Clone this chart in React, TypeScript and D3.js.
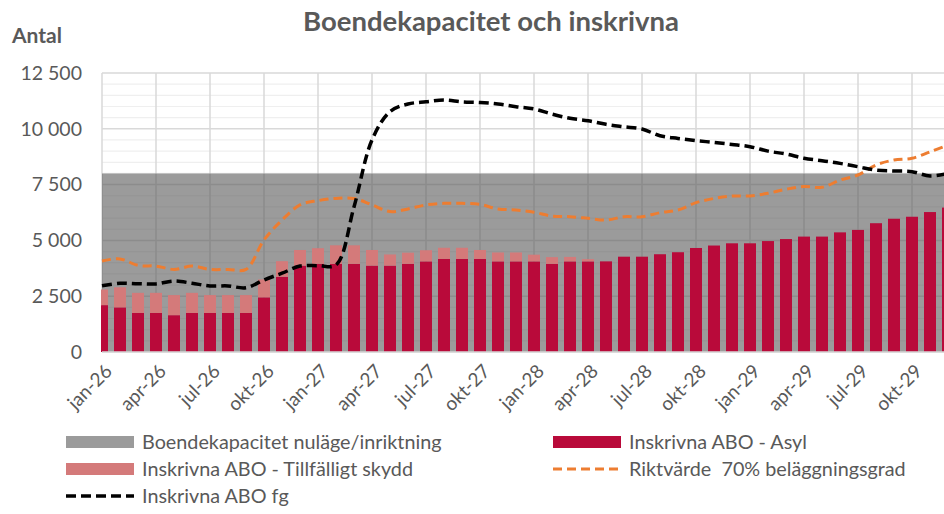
import React from 'react';
import * as d3 from 'd3';

// månader jan-26 .. dec-29
const months = [
  'jan-26', 'feb-26', 'mar-26', 'apr-26', 'maj-26', 'jun-26', 'jul-26', 'aug-26', 'sep-26', 'okt-26', 'nov-26', 'dec-26',
  'jan-27', 'feb-27', 'mar-27', 'apr-27', 'maj-27', 'jun-27', 'jul-27', 'aug-27', 'sep-27', 'okt-27', 'nov-27', 'dec-27',
  'jan-28', 'feb-28', 'mar-28', 'apr-28', 'maj-28', 'jun-28', 'jul-28', 'aug-28', 'sep-28', 'okt-28', 'nov-28', 'dec-28',
  'jan-29', 'feb-29', 'mar-29', 'apr-29', 'maj-29', 'jun-29', 'jul-29', 'aug-29', 'sep-29', 'okt-29', 'nov-29', 'dec-29',
];

const tickLabels = [
  'jan-26', 'apr-26', 'jul-26', 'okt-26', 'jan-27', 'apr-27', 'jul-27', 'okt-27',
  'jan-28', 'apr-28', 'jul-28', 'okt-28', 'jan-29', 'apr-29', 'jul-29', 'okt-29',
];

const yTicks = [0, 2500, 5000, 7500, 10000, 12500];

const kapacitet = [
  8000, 8000, 8000, 8000, 8000, 8000, 8000, 8000, 8000, 8000, 8000, 8000,
  8000, 8000, 8000, 8000, 8000, 8000, 8000, 8000, 8000, 8000, 8000, 8000,
  8000, 8000, 8000, 8000, 8000, 8000, 8000, 8000, 8000, 8000, 8000, 8000,
  8000, 8000, 8000, 8000, 8000, 8000, 8000, 8000, 8000, 8000, 8000, 8000,
];

const asyl = [
  2100, 2000, 1750, 1750, 1650, 1750, 1750, 1750, 1750, 2450, 3370, 3870,
  3950, 3950, 3950, 3870, 3870, 3950, 4060, 4170, 4170, 4170, 4060, 4060,
  4060, 3950, 4060, 4060, 4060, 4270, 4270, 4380, 4470, 4660, 4770, 4870,
  4870, 4970, 5060, 5170, 5170, 5360, 5470, 5770, 5970, 6060, 6270, 6470,
];

const tillfalligt = [
  700, 900, 900, 900, 900, 900, 800, 800, 800, 800, 700, 700,
  700, 830, 830, 700, 500, 500, 500, 500, 500, 400, 400, 400,
  300, 300, 200, 100, 0, 0, 0, 0, 0, 0, 0, 0,
  0, 0, 0, 0, 0, 0, 0, 0, 0, 0, 0, 0,
];

const riktvarde = [
  4080, 4170, 3880, 3850, 3700, 3850, 3700, 3700, 3700, 5020, 5910, 6590,
  6780, 6880, 6880, 6590, 6290, 6410, 6590, 6660, 6660, 6610, 6410, 6360,
  6260, 6090, 6060, 5990, 5910, 6060, 6060, 6240, 6360, 6690, 6880, 6990,
  6990, 7110, 7290, 7410, 7380, 7700, 7930, 8380, 8600, 8680, 8970, 9270,
];

const aboFg = [
  2970, 3080, 3060, 3050, 3180, 3080, 2960, 2960, 2880, 3230, 3530, 3850,
  3870, 3900, 6500, 9500, 10770, 11110, 11210, 11290, 11210, 11180, 11110, 10990,
  10890, 10660, 10470, 10360, 10200, 10090, 9990, 9690, 9570, 9470, 9390, 9300,
  9200, 9000, 8870, 8680, 8570, 8450, 8300, 8150, 8110, 8080, 7890, 8000,
];

const W = 944;
const H = 514;
const left = 102;
const right = 948;
const top = 73;
const bottom = 352;
const font = 'Lato, "Open Sans", sans-serif';
const textColor = '#595959';

export default function App() {
  const x = d3.scalePoint<string>().domain(months).range([left, right]);
  const y = d3.scaleLinear().domain([0, 12500]).range([bottom, top]);
  const bw = 12;

  const minor = d3.range(0, 12501, 500);

  const area = d3
    .area<number>()
    .x((_, i) => x(months[i])!)
    .y0(y(0))
    .y1((d) => y(d));

  const line = d3
    .line<number>()
    .x((_, i) => x(months[i])!)
    .y((d) => y(d))
    .curve(d3.curveCatmullRom.alpha(0.5));

  const legend = [
    { label: 'Boendekapacitet nuläge/inriktning', kind: 'area', x: 66, y: 442 },
    { label: 'Inskrivna ABO - Asyl', kind: 'asyl', x: 553, y: 442 },
    { label: 'Inskrivna ABO - Tillfälligt skydd', kind: 'tf', x: 66, y: 469 },
    { label: 'Riktvärde  70% beläggningsgrad', kind: 'rikt', x: 553, y: 469 },
    { label: 'Inskrivna ABO fg', kind: 'fg', x: 66, y: 496 },
  ];

  return (
    <svg
      width={W}
      height={H}
      style={{ position: 'absolute', left: 0, top: 0, background: '#fff' }}
      fontFamily={font}
    >
      <defs>
        <clipPath id="plot">
          <rect x={left - 1} y={top - 10} width={right - left + 20} height={bottom - top + 12} />
        </clipPath>
      </defs>

      <text x={491} y={31} textAnchor="middle" fontSize={27.5} fontWeight="bold" fill={textColor}>
        Boendekapacitet och inskrivna
      </text>
      <text x={12} y={43} fontSize={21} fontWeight="bold" fill={textColor}>
        Antal
      </text>

      {/* rutnät */}
      {minor.map((v) => (
        <line
          key={'m' + v}
          x1={left}
          x2={right}
          y1={y(v)}
          y2={y(v)}
          stroke={v % 2500 === 0 ? '#d9d9d9' : '#efefef'}
          strokeWidth={v % 2500 === 0 ? 1.5 : 1.2}
        />
      ))}
      {tickLabels.map((t) => (
        <line key={'v' + t} x1={x(t)} x2={x(t)} y1={top} y2={bottom} stroke="#d9d9d9" strokeWidth={1.5} />
      ))}

      <g clipPath="url(#plot)">
        <path d={area(kapacitet)!} fill="#595959" fillOpacity={0.6} />
        {months.map((m, i) => (
          <g key={m}>
            <rect x={x(m)! - bw / 2} y={y(asyl[i])} width={bw} height={y(0) - y(asyl[i])} fill="#b90a3a" />
            {tillfalligt[i] > 0 && (
              <rect
                x={x(m)! - bw / 2}
                y={y(asyl[i] + tillfalligt[i])}
                width={bw}
                height={y(asyl[i]) - y(asyl[i] + tillfalligt[i])}
                fill="#d47a7a"
              />
            )}
          </g>
        ))}
        <path d={line(riktvarde)!} fill="none" stroke="#ed7d31" strokeWidth={3} strokeDasharray="9 5" />
        <path d={line(aboFg)!} fill="none" stroke="#000" strokeWidth={3.5} strokeDasharray="10 5" />
      </g>

      <line x1={left} x2={right} y1={bottom} y2={bottom} stroke="#d9d9d9" strokeWidth={1.5} />

      {yTicks.map((v) => (
        <text key={v} x={82} y={y(v)} dy="0.35em" textAnchor="end" fontSize={19.5} fill={textColor}>
          {d3.format(',')(v).replace(',', ' ')}
        </text>
      ))}

      {tickLabels.map((t) => (
        <text
          key={t}
          transform={`translate(${x(t)! + 2},${bottom + 11}) rotate(-45)`}
          textAnchor="end"
          dy="0.7em"
          fontSize={19}
          fill={textColor}
        >
          {t}
        </text>
      ))}

      {legend.map((l) => (
        <g key={l.label}>
          {l.kind === 'area' && <rect x={l.x} y={l.y - 6} width={68} height={12} fill="#595959" fillOpacity={0.6} />}
          {l.kind === 'asyl' && <rect x={l.x} y={l.y - 6} width={68} height={12} fill="#b90a3a" />}
          {l.kind === 'tf' && <rect x={l.x} y={l.y - 6} width={68} height={12} fill="#d47a7a" />}
          {l.kind === 'rikt' && (
            <line x1={l.x} x2={l.x + 68} y1={l.y} y2={l.y} stroke="#ed7d31" strokeWidth={3} strokeDasharray="9 5" />
          )}
          {l.kind === 'fg' && (
            <line x1={l.x} x2={l.x + 68} y1={l.y} y2={l.y} stroke="#000" strokeWidth={3.5} strokeDasharray="10 5" />
          )}
          <text x={l.x + 76} y={l.y} dy="0.35em" fontSize={19.8} fill={textColor} style={{ whiteSpace: 'pre' }}>
            {l.label}
          </text>
        </g>
      ))}
    </svg>
  );
}
